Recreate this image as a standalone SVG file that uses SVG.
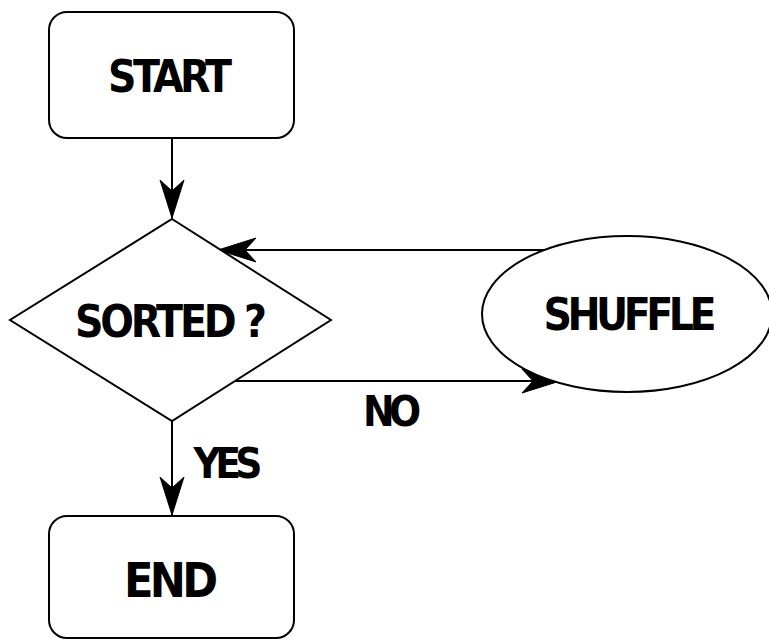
<svg xmlns="http://www.w3.org/2000/svg" width="769" height="639" viewBox="0 0 769 639">
<style>
.shape{fill:#fff;stroke:#000;stroke-width:2}
.edge{fill:none;stroke:#000;stroke-width:2}
.lbl{font-family:"DejaVu Sans Condensed","DejaVu Sans","Liberation Sans",sans-serif;font-stretch:condensed;font-weight:bold;text-anchor:middle;fill:#000}
</style>
<defs>
<marker id="arr" markerUnits="userSpaceOnUse" markerWidth="44" markerHeight="30" viewBox="-40 -14 44 28" refX="0" refY="0" orient="auto">
<path d="M0,0 L-38,-12 L-27,0 L-38,12 Z" fill="#000" stroke="#000" stroke-width="1"/>
</marker>
</defs>
<rect width="769" height="639" fill="#fff"/>
<g id="connectors">
<line class="edge" x1="172" y1="138" x2="172" y2="218" marker-end="url(#arr)"/>
<line class="edge" x1="172" y1="421" x2="172" y2="515" marker-end="url(#arr)"/>
<line class="edge" x1="545" y1="250" x2="218" y2="250" marker-end="url(#arr)"/>
<line class="edge" x1="233" y1="381" x2="560" y2="381" marker-end="url(#arr)"/>
<text class="lbl" x="392" y="426" font-size="42" textLength="58" lengthAdjust="spacing">NO</text>
<text class="lbl" x="228" y="478" font-size="42" textLength="69" lengthAdjust="spacing">YES</text>
</g>
<g id="start">
<rect class="shape" x="49" y="12" width="245" height="126" rx="18"/>
<text class="lbl" x="170" y="92" font-size="44" textLength="124" lengthAdjust="spacing">START</text>
</g>
<g id="sorted">
<polygon class="shape" points="172,219 331,320 172,421 10,320"/>
<text class="lbl" x="171" y="337" font-size="44" textLength="192" lengthAdjust="spacing">SORTED ?</text>
</g>
<g id="shuffle">
<ellipse class="shape" cx="627" cy="314" rx="145" ry="78"/>
<text class="lbl" x="630" y="330" font-size="44" textLength="173" lengthAdjust="spacing">SHUFFLE</text>
</g>
<g id="end">
<rect class="shape" x="49" y="516" width="245" height="122" rx="18"/>
<text class="lbl" x="171" y="597" font-size="48" textLength="94" lengthAdjust="spacing">END</text>
</g>
</svg>
